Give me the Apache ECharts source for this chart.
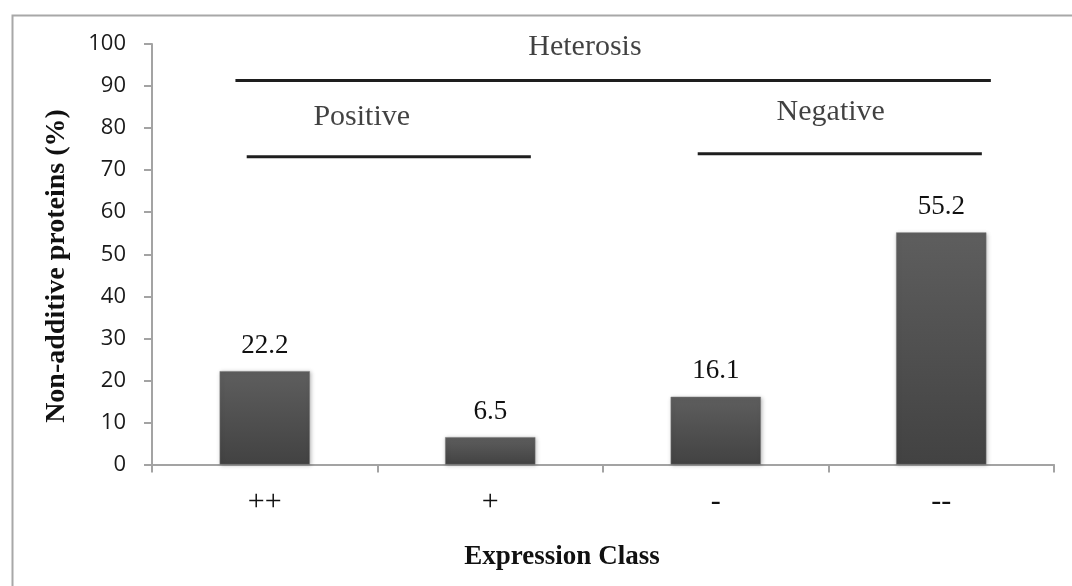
<!DOCTYPE html>
<html>
<head>
<meta charset="utf-8">
<script src="https://cdn.jsdelivr.net/npm/echarts@6/dist/echarts.min.js"></script>
<style>
html,body{margin:0;padding:0;background:#fff;}
#chart{width:1072px;height:586px;}
</style>
</head>
<body>
<div id="chart"></div>
<script>
// ---- data ----
const categories = ['++', '+', '-', '--'];
const values = [22.2, 6.5, 16.1, 55.2];
const yTicks = [0, 10, 20, 30, 40, 50, 60, 70, 80, 90, 100];
const yAxisTitle = 'Non-additive proteins (%)';
const xAxisTitle = 'Expression Class';
// annotation bracket lines (x in category units 0..4, y in %)
const bracketNames = ['Heterosis', 'Positive', 'Negative'];
const bracketX1 = [0.37, 0.42, 2.42];
const bracketX2 = [3.72, 1.68, 3.68];
const bracketY = [91.3, 73.2, 73.9];
// annotation label positions
const labelX = [1.92, 0.93, 3.01];
const labelY = [99.3, 82.7, 83.8];

const chart = echarts.init(document.getElementById('chart'));
const serif = '"Liberation Serif", "Times New Roman", serif';
const sans = '"Open Sans", "Liberation Sans", sans-serif';
const axisColor = '#a3a3a3';

const lineSeries = bracketNames.map((n, i) => ({
  type: 'line',
  name: n + ' line',
  xAxisIndex: 1,
  yAxisIndex: 0,
  data: [[bracketX1[i], bracketY[i]], [bracketX2[i], bracketY[i]]],
  symbol: 'none',
  lineStyle: { color: '#1e1e1e', width: 3 },
  silent: true,
  z: 3
}));

const option = {
  animation: false,
  backgroundColor: '#fff',
  grid: { left: 152, right: 18, top: 44, bottom: 121.5, containLabel: false },
  xAxis: [
    {
      type: 'category',
      data: categories,
      boundaryGap: true,
      axisLine: { lineStyle: { color: axisColor, width: 2 } },
      axisTick: { show: true, length: 8, lineStyle: { color: axisColor, width: 2 } },
      axisLabel: { fontFamily: serif, fontSize: 30, color: '#111', margin: 23 },
      splitLine: { show: false }
    },
    {
      type: 'value',
      min: 0, max: 4,
      show: false
    }
  ],
  yAxis: {
    type: 'value',
    min: yTicks[0],
    max: yTicks[yTicks.length - 1],
    interval: yTicks[1] - yTicks[0],
    axisLine: { show: true, lineStyle: { color: axisColor, width: 2 } },
    axisTick: { show: true, length: 8, lineStyle: { color: axisColor, width: 2 } },
    axisLabel: { fontFamily: sans, fontSize: 22, color: '#1a1a1a', margin: 26 },
    splitLine: { show: false }
  },
  series: [
    {
      type: 'bar',
      data: values,
      barWidth: '40%',
      itemStyle: {
        color: new echarts.graphic.LinearGradient(0, 0, 0, 1, [
          { offset: 0, color: '#5e5e5e' },
          { offset: 1, color: '#424242' }
        ]),
        borderColor: '#777',
        borderWidth: 0.5,
        shadowColor: 'rgba(0,0,0,0.25)',
        shadowBlur: 4,
        shadowOffsetX: 1,
        shadowOffsetY: 1
      },
      label: {
        show: true,
        position: 'top',
        distance: 12,
        fontFamily: serif,
        fontSize: 27,
        color: '#111',
        formatter: p => p.value.toFixed(1)
      },
      z: 2
    },
    ...lineSeries,
    {
      type: 'scatter',
      xAxisIndex: 1,
      yAxisIndex: 0,
      symbolSize: 0,
      silent: true,
      data: bracketNames.map((n, i) => ({ name: n, value: [labelX[i], labelY[i]] })),
      label: {
        show: true,
        position: 'inside',
        formatter: p => p.name,
        fontFamily: serif,
        fontSize: 30,
        color: '#111'
      }
    }
  ],
  graphic: [
    {
      type: 'rect',
      left: 10, top: 13,
      shape: { width: 1200, height: 700 },
      style: { fill: 'none', stroke: '#a8a8a8', lineWidth: 2 },
      silent: true,
      z: -10
    },
    {
      type: 'text',
      x: 57, y: 266,
      rotation: Math.PI / 2,
      style: {
        text: yAxisTitle,
        fontFamily: serif,
        fontSize: 28,
        fontWeight: 'bold',
        fill: '#111',
        align: 'center',
        verticalAlign: 'middle'
      }
    },
    {
      type: 'text',
      x: 562, y: 557,
      style: {
        text: xAxisTitle,
        fontFamily: serif,
        fontSize: 27,
        fontWeight: 'bold',
        fill: '#111',
        align: 'center',
        verticalAlign: 'middle'
      }
    }
  ]
};
chart.setOption(option);
</script>
</body>
</html>
